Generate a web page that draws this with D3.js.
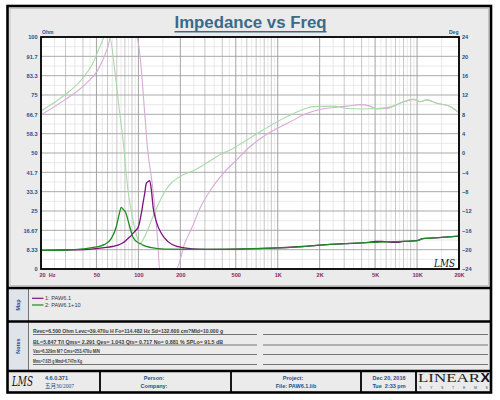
<!DOCTYPE html>
<html><head><meta charset="utf-8">
<script src="https://cdn.jsdelivr.net/npm/d3@7"></script>
<style>
html,body{margin:0;padding:0;background:#fff;}
svg{display:block;font-family:"Liberation Sans",Arial,sans-serif;}
</style></head><body>
<svg id="c" width="500" height="400"></svg>
<script>
// ---------- data ----------
const xTicks = [20, 50, 100, 200, 500, 1000, 2000, 5000, 10000, 20000];
const xTickLabels = ["20\u00a0\u00a0Hz", "50", "100", "200", "500", "1K", "2K", "5K", "10K", "20K"];
const ohmTicks = [0, 8.33, 16.67, 25, 33.33, 41.67, 50, 58.33, 66.67, 75, 83.33, 91.67, 100];
const ohmTickLabels = ["0", "8.33", "16.67", "25", "33.3", "41.7", "50", "58.3", "66.7", "75", "83.3", "91.7", "100"];
const degTicks = [-24, -20, -16, -12, -8, -4, 0, 4, 8, 12, 16, 20, 24];

const seriesNames = ["1: PAW6.1", "2: PAW6.1+10"];

// impedance magnitude (Ohm), PAW6.1
const imp1Freq = [20, 30, 43.5, 57, 65, 71.4, 77, 82, 87, 91.5, 96, 100, 105, 108, 111, 114, 117, 120.6, 124, 127.4, 134.5, 146, 163, 193, 227, 268, 350, 500, 700, 1000, 1500, 2000, 3000, 4500, 5000, 5600, 6500, 7200, 8000, 10000, 11000, 15000, 20000];
const imp1Ohm  = [8.0, 8.2, 8.5, 9.2, 9.7, 10.3, 11.2, 12.5, 13.9, 15.4, 16.7, 18.2, 24, 28.5, 32.6, 36.9, 37.6, 38.1, 34, 26.9, 20.4, 15.4, 11.8, 9.6, 8.9, 8.6, 8.5, 8.6, 8.8, 9.1, 9.7, 10.3, 10.9, 11.5, 11.9, 11.9, 11.5, 11.5, 11.9, 12.2, 13.1, 13.6, 14.2];

// impedance magnitude (Ohm), PAW6.1+10
const imp2Freq = [20, 30, 40, 50, 57.3, 64, 69.4, 72.6, 75.4, 78, 80.6, 86.7, 91.5, 100, 104, 108, 124, 155, 268, 500, 1000, 1232, 2000, 5000, 6770, 10000, 11000, 15000, 20000];
const imp2Ohm  = [8.0, 8.2, 8.7, 9.5, 10.6, 13.2, 18.2, 23.3, 26.6, 25.6, 24.7, 18.2, 13.7, 11.3, 10.9, 10.3, 9.2, 8.6, 8.5, 8.6, 9.1, 9.3, 10.3, 11.5, 11.8, 12.2, 13.1, 13.6, 14.2];

// phase (deg), PAW6.1  (as drawn, limited to the +/-24 deg window)
const ph1Freq = [20, 29.6, 41.2, 51.3, 60.5, 63.3, 96.6, 100, 105, 111, 116, 127.4, 138, 142, 187, 215, 247, 268, 336, 407, 508, 632, 789, 1039, 1294, 1528, 2000, 2654, 3130, 3900, 4600, 5140, 6070, 6770, 7980, 9420, 10500, 11740, 13860, 17270, 20000];
const ph1Deg  = [7.9, 11, 14.1, 17.2, 22, 24, 24, 22.7, 17.2, 8.2, 1.3, -7.7, -18.7, -24, -24, -18.7, -14.9, -12.3, -7.3, -4.2, -1.4, 1.3, 3.4, 5.4, 6.8, 7.9, 9.0, 9.5, 9.7, 10.0, 9.7, 9.1, 9.2, 9.7, 10.6, 11.1, 10.6, 11.0, 10.3, 9.6, 8.3];

// phase (deg), PAW6.1+10
const ph2Freq = [20, 29.6, 38.9, 47.2, 54.2, 57.3, 62.2, 67.6, 73.5, 77.6, 84.2, 91.5, 96, 102.3, 111, 127, 145, 165, 198, 254, 300, 407, 455, 600, 789, 1039, 1370, 1802, 2510, 3130, 4100, 5140, 6770, 7980, 9420, 10500, 11740, 13860, 17270, 20000];
const ph2Deg  = [8.7, 12, 15.1, 18.6, 22.7, 24, 24, 17.2, 8.2, 2.7, -7.7, -13.9, -16.5, -18.8, -17.3, -13.2, -9.5, -6.8, -4.9, -3.5, -2.3, 0, 0.6, 2.7, 4.8, 6.8, 8.5, 9.6, 9.7, 9.2, 9.1, 9.2, 9.7, 10.6, 11.1, 10.6, 11.0, 10.3, 9.6, 8.3];

const notesLines = [
  "Revc=6.500 Ohm  Levc=39.47llu H  Fo=114.482 Hz  Sd=132.600 cm?Mld=10.000 g",
  "BL=5.847 T/l  Qms= 2.291  Qes= 1.043  Qts= 0.717  No= 0.881 %  SPLo= 91.5 dB",
  "Vas=6.329m M?  Cms=253.47llu M/N",
  "Mms=7.625 g  Mmd=6.747m Kg"
];

// ---------- layout ----------
const svg = d3.select('#c');
const P = {l: 41, r: 459, t: 37, b: 269};
const blue = '#24508e';
const C = {imp1: '#7d1280', imp2: '#1f8a23', ph1: '#d7aad8', ph2: '#a9d9a9'};

const x = d3.scaleLog().domain([20, 20000]).range([P.l, P.r]);
const yL = d3.scaleLinear().domain([0, 100]).range([P.b, P.t]);
const yR = d3.scaleLinear().domain([-24, 24]).range([P.b, P.t]);

// frame background
svg.append('rect').attr('x', 7.5).attr('y', 6).attr('width', 483.5).attr('height', 386.5).attr('fill', '#ebebeb');
// label columns for Map/Notes
svg.append('rect').attr('x', 8.5).attr('y', 289).attr('width', 20).attr('height', 82).attr('fill', '#dfe4eb');
svg.append('line').attr('x1', 28.5).attr('x2', 28.5).attr('y1', 288).attr('y2', 371).attr('stroke', '#555').attr('stroke-width', 0.8);
// inner bevel of chart panel
svg.append('rect').attr('x', 10).attr('y', 8.5).attr('width', 478.5).attr('height', 277).attr('fill', 'none').attr('stroke', '#a8a8a8').attr('stroke-width', 0.6);

// plot background
svg.append('rect').attr('x', P.l).attr('y', P.t).attr('width', P.r - P.l).attr('height', P.b - P.t).attr('fill', '#fff');

// grid
const majorF = [], minorF = [];
[10, 100, 1000, 10000].forEach(dec => {
  for (let m = 1; m <= 9; m++) {
    const f = m * dec;
    if (f >= 20 && f <= 20000) majorF.push(f);
    const h = (m + 0.5) * dec;
    if (h > 20 && h < 20000) minorF.push(h);
  }
});
majorF.push(20000);
const g = svg.append('g');
g.selectAll('.vmin').data(minorF).join('line')
  .attr('x1', d => x(d)).attr('x2', d => x(d)).attr('y1', P.t).attr('y2', P.b)
  .attr('stroke', '#e3e3e3').attr('stroke-width', 0.8);
const hMinor = d3.range(12).map(i => (i + 0.5) * 100 / 12);
g.selectAll('.hmin').data(hMinor).join('line')
  .attr('x1', P.l).attr('x2', P.r).attr('y1', d => yL(d)).attr('y2', d => yL(d))
  .attr('stroke', '#e3e3e3').attr('stroke-width', 0.8);
g.selectAll('.vmaj').data(majorF).join('line')
  .attr('x1', d => x(d)).attr('x2', d => x(d)).attr('y1', P.t).attr('y2', P.b)
  .attr('stroke', d => xTicks.includes(d) ? '#9a9a9a' : '#c2c2c2').attr('stroke-width', 0.9);
g.selectAll('.hmaj').data(ohmTicks).join('line')
  .attr('x1', P.l).attr('x2', P.r).attr('y1', d => yL(d)).attr('y2', d => yL(d))
  .attr('stroke', '#9f9f9f').attr('stroke-width', 0.9);

// curves
svg.append('clipPath').attr('id', 'clip').append('rect')
  .attr('x', P.l).attr('y', P.t).attr('width', P.r - P.l).attr('height', P.b - P.t);
const lines = svg.append('g').attr('clip-path', 'url(#clip)');
const mk = (fs, vs) => fs.map((f, i) => [f, vs[i]]);
const lineL = d3.line().x(d => x(d[0])).y(d => yL(d[1])).curve(d3.curveMonotoneX);
const lineR = d3.line().x(d => x(d[0])).y(d => yR(d[1])).curve(d3.curveMonotoneX);
lines.append('path').attr('d', lineR(mk(ph1Freq, ph1Deg))).attr('fill', 'none').attr('stroke', C.ph1).attr('stroke-width', 1.1);
lines.append('path').attr('d', lineR(mk(ph2Freq, ph2Deg))).attr('fill', 'none').attr('stroke', C.ph2).attr('stroke-width', 1.1);
lines.append('path').attr('d', lineL(mk(imp1Freq, imp1Ohm))).attr('fill', 'none').attr('stroke', C.imp1).attr('stroke-width', 1.3);
lines.append('path').attr('d', lineL(mk(imp2Freq, imp2Ohm))).attr('fill', 'none').attr('stroke', C.imp2).attr('stroke-width', 1.3);

// plot border
svg.append('rect').attr('x', P.l).attr('y', P.t).attr('width', P.r - P.l).attr('height', P.b - P.t)
  .attr('fill', 'none').attr('stroke', '#000').attr('stroke-width', 1.8);

// axes
const axL = svg.append('g').attr('transform', `translate(${P.l},0)`)
  .call(d3.axisLeft(yL).tickValues(ohmTicks).tickFormat((d, i) => ohmTickLabels[i]).tickSize(0).tickPadding(3.5));
const axR = svg.append('g').attr('transform', `translate(${P.r},0)`)
  .call(d3.axisRight(yR).tickValues(degTicks).tickFormat(d3.format('d')).tickSize(0).tickPadding(3));
const axB = svg.append('g').attr('transform', `translate(0,${P.b})`)
  .call(d3.axisBottom(x).tickValues(xTicks).tickFormat((d, i) => xTickLabels[i]).tickSize(0).tickPadding(4));
[axL, axR, axB].forEach(a => {
  a.select('.domain').remove();
  a.selectAll('text').attr('font-family', '"Liberation Sans",Arial,sans-serif').attr('font-weight', 'bold').attr('font-size', 5.6);
});
axL.selectAll('text').attr('fill', blue);
axR.selectAll('text').attr('fill', blue);
axB.selectAll('text').attr('fill', '#8e1f55');
axB.selectAll('.tick').filter((d, i) => i === 0).select('text').attr('text-anchor', 'start').attr('x', -2);

svg.append('text').attr('x', 42).attr('y', 34).attr('font-size', 5).attr('font-weight', 'bold').attr('fill', blue).text('Ohm');
svg.append('text').attr('x', 449).attr('y', 33.5).attr('font-size', 5).attr('font-weight', 'bold').attr('fill', blue).text('Deg');

// LMS signature in plot
svg.append('text').attr('x', 434).attr('y', 266.5).attr('font-family', '"DejaVu Serif",serif').attr('font-style', 'italic')
  .attr('font-size', 10.5).attr('fill', '#111').attr('textLength', 21).attr('lengthAdjust', 'spacingAndGlyphs').text('LMS');

// title
const title = svg.append('text').attr('x', 250.5).attr('y', 28).attr('text-anchor', 'middle')
  .attr('font-size', 16.8).attr('font-weight', 'bold').attr('fill', '#3a6a8a').text('Impedance vs Freq');
const tw = title.node().getComputedTextLength();
svg.append('line').attr('x1', 250.5 - tw / 2).attr('x2', 250.5 + tw / 2).attr('y1', 31.8).attr('y2', 31.8)
  .attr('stroke', '#3a6a8a').attr('stroke-width', 1.5);

// Map panel (legend)
const legC = [C.imp1, C.imp2];
const leg = svg.append('g');
leg.selectAll('line').data(seriesNames).join('line')
  .attr('x1', 32).attr('x2', 43.5).attr('y1', (d, i) => 298.3 + i * 6.7).attr('y2', (d, i) => 298.3 + i * 6.7)
  .attr('stroke', (d, i) => legC[i]).attr('stroke-width', 1.2);
leg.selectAll('text').data(seriesNames).join('text')
  .attr('x', 45).attr('y', (d, i) => 300.3 + i * 6.7).attr('font-size', 5.6).attr('fill', '#3a3a3a').text(d => d);
svg.append('text').attr('transform', 'translate(19.5,305) rotate(-90)').attr('text-anchor', 'middle')
  .attr('font-size', 5.5).attr('font-weight', 'bold').attr('fill', blue).text('Map');
svg.append('text').attr('transform', 'translate(19.5,346) rotate(-90)').attr('text-anchor', 'middle')
  .attr('font-size', 5.5).attr('font-weight', 'bold').attr('fill', blue).text('Notes');

// Notes
const noteY = [334.5, 345, 354.5, 364.5];
const noteW = [190, 190, 67, 49];
const notes = svg.append('g');
notes.selectAll('text').data(notesLines).join('text')
  .attr('x', 33).attr('y', (d, i) => noteY[i] - 1.2).attr('font-size', 5.6).attr('font-weight', 'bold').attr('fill', '#3c3c3c')
  .attr('textLength', (d, i) => noteW[i]).attr('lengthAdjust', 'spacingAndGlyphs').text(d => d);
notes.selectAll('.ul1').data(noteY).join('line').attr('x1', 33).attr('x2', 257).attr('y1', d => d).attr('y2', d => d)
  .attr('stroke', '#555').attr('stroke-width', 0.8);
notes.selectAll('.ul2').data(noteY).join('line').attr('x1', 263).attr('x2', 488).attr('y1', d => d).attr('y2', d => d)
  .attr('stroke', '#555').attr('stroke-width', 0.8);

// footer
svg.append('text').attr('x', 12).attr('y', 385.5).attr('font-family', '"DejaVu Serif",serif').attr('font-style', 'italic')
  .attr('font-size', 13).attr('fill', '#111').attr('textLength', 21).attr('lengthAdjust', 'spacingAndGlyphs').text('LMS');
const ft = (tx, xx, yy, anchor, fam) => svg.append('text').attr('x', xx).attr('y', yy).attr('text-anchor', anchor || 'middle')
  .attr('font-size', 5.5).attr('font-weight', fam ? 'normal' : 'bold').attr('fill', blue)
  .attr('font-family', fam || '"Liberation Sans",Arial,sans-serif').text(tx);
ft('4.6.0.371', 45, 380, 'start');
ft('五月30/2007', 45, 387.5, 'start', '"Liberation Serif","Noto Sans CJK SC",serif');
ft('Person:', 154, 380);
ft('Company:', 154, 387.5);
ft('Project:', 293, 380);
ft('File: PAW6.1.lib', 296, 387.5);
ft('Dec 20, 2016', 389, 380);
ft('Tue  2:33 pm', 389, 387.5).style('white-space', 'pre');
svg.append('text').attr('x', 418).attr('y', 382).attr('font-family', '"Liberation Serif",serif').attr('font-size', 12)
  .attr('fill', '#222').attr('textLength', 62).attr('lengthAdjust', 'spacingAndGlyphs').text('LINEAR');
svg.append('text').attr('x', 480.5).attr('y', 382).attr('font-family', '"Liberation Sans",Arial,sans-serif').attr('font-size', 12)
  .attr('font-weight', 'bold').attr('fill', '#111').attr('textLength', 9.5).attr('lengthAdjust', 'spacingAndGlyphs').text('X');
svg.append('text').attr('x', 419).attr('y', 389).attr('font-size', 3.6).attr('fill', blue)
  .attr('textLength', 69).attr('lengthAdjust', 'spacing').text('SYSTEMS');

// footer dividers and panel borders
[100, 231, 361, 416].forEach(xx => svg.append('line').attr('x1', xx).attr('x2', xx).attr('y1', 371).attr('y2', 392.5)
  .attr('stroke', '#000').attr('stroke-width', 1.8));
[288, 321.5, 371].forEach(yy => svg.append('line').attr('x1', 7.5).attr('x2', 491).attr('y1', yy).attr('y2', yy)
  .attr('stroke', '#000').attr('stroke-width', 2.6));
svg.append('rect').attr('x', 7.5).attr('y', 6).attr('width', 483.5).attr('height', 386.5)
  .attr('fill', 'none').attr('stroke', '#000').attr('stroke-width', 2.6);
</script>
</body></html>
